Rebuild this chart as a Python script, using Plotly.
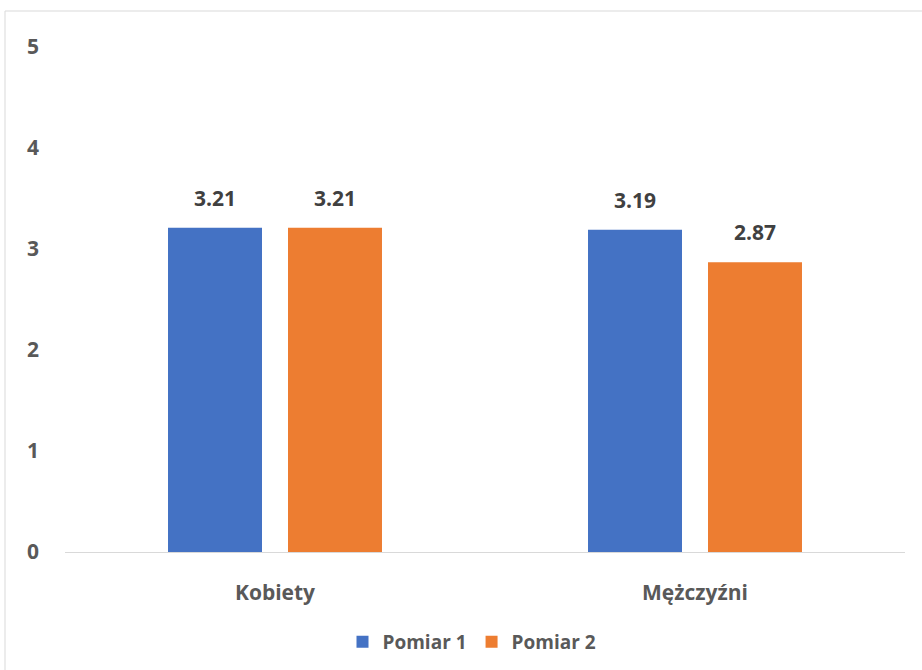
import plotly.graph_objects as go

categories = ["Kobiety", "Mężczyźni"]
pomiar1 = [3.21, 3.19]
pomiar2 = [3.21, 2.87]
series_names = ["Pomiar 1", "Pomiar 2"]
y_ticks = [0, 1, 2, 3, 4, 5]

FONT = "Open Sans"
W, H = 922, 670
ml, mr, mt, mb = 65, 17, 47, 118
pw, ph = W - ml - mr, H - mt - mb

fig = go.Figure()
series = [(series_names[0], pomiar1, "#4472C4", -60), (series_names[1], pomiar2, "#ED7D31", 60)]
for name, vals, col, _ in series:
    fig.add_trace(go.Bar(
        x=categories, y=vals, name=name, marker=dict(color=col, line=dict(width=0)),
    ))

for name, vals, col, dx in series:
    for c, v in zip(categories, vals):
        fig.add_annotation(x=c, y=v, xref="x", yref="y", text=f"{v:.2f}", showarrow=False,
                           xshift=dx, yshift=14, yanchor="bottom", xanchor="center",
                           font=dict(family=FONT, size=21, color="#404040", weight="bold"))

def px_x(p):
    return (p - ml) / pw

def px_y(p):
    return (H - mb - p) / ph

fig.add_shape(type="rect", xref="paper", yref="paper",
              x0=px_x(5), x1=px_x(W + 20), y0=px_y(11), y1=px_y(H + 20),
              line=dict(color="#D9D9D9", width=1), fillcolor="rgba(0,0,0,0)", layer="below")

fig.update_layout(
    width=W, height=H,
    margin=dict(l=ml, r=mr, t=mt, b=mb, autoexpand=False),
    paper_bgcolor="white", plot_bgcolor="white",
    barmode="group", bargap=0.4286, bargroupgap=0.2167,
    showlegend=True,
    legend=dict(orientation="h", x=px_x(472), xanchor="center",
                y=px_y(642), yanchor="middle",
                font=dict(family=FONT, size=19, color="#595959", weight="bold"),
                itemwidth=30, traceorder="normal"),
    font=dict(family=FONT, color="#595959"),
)
fig.update_xaxes(showgrid=False, showline=True, linecolor="#D9D9D9", linewidth=1,
                 ticks="", tickfont=dict(family=FONT, size=21, color="#595959", weight="bold"),
                 ticklabelstandoff=22, zeroline=False, automargin=False)
fig.update_yaxes(range=[0, 5], tickvals=y_ticks, showgrid=False, showline=False, zeroline=False,
                 ticks="", tickfont=dict(family=FONT, size=21, color="#595959", weight="bold"),
                 ticklabelstandoff=25, automargin=False)

fig.write_html("out.html")
